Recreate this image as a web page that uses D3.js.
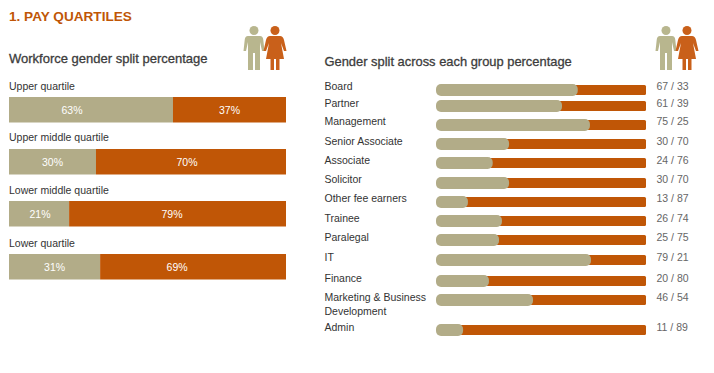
<!DOCTYPE html>
<html>
<head>
<meta charset="utf-8">
<script src="https://cdn.jsdelivr.net/npm/d3@7"></script>
<style>
	body { margin: 0; background: #fff; }
	svg { display: block; }
	text { font-family: "Liberation Sans", Arial, sans-serif; }
</style>
</head>
<body>
<svg id="chart" width="714" height="373"></svg>
<script>
const tan = "#b2ac88";
const rust = "#c05606";

// left panel
const quartiles = ["Upper quartile", "Upper middle quartile", "Lower middle quartile", "Lower quartile"];
const quartileMen = [63, 30, 21, 31];
const quartileWomen = [37, 70, 79, 69];
// where the split actually sits in the picture, it does not follow the printed numbers
const quartileDrawn = [59.2, 31.4, 21.7, 32.9];

// right panel
const groups = ["Board", "Partner", "Management", "Senior Associate", "Associate", "Solicitor", "Other fee earners",
	"Trainee", "Paralegal", "IT", "Finance", "Marketing & Business|Development", "Admin"];
const groupMen = [67, 61, 75, 30, 24, 30, 13, 26, 25, 79, 20, 46, 11];
const groupWomen = [33, 39, 25, 70, 76, 70, 87, 74, 75, 21, 80, 54, 89];
const groupDrawn = [67.5, 60, 73.3, 34.8, 27, 34.8, 15.2, 31.4, 30, 73.8, 25.2, 46.2, 12.9];

const svg = d3.select("#chart");

svg.append("text").attr("x", 9).attr("y", 20.5)
	.attr("font-size", 13.6).attr("font-weight", "bold").attr("fill", rust)
	.text("1. PAY QUARTILES");

svg.append("text").attr("x", 9).attr("y", 63)
	.attr("font-size", 13).attr("fill", "#3c3c3c").attr("stroke", "#3c3c3c").attr("stroke-width", 0.3)
	.text("Workforce gender split percentage");

svg.append("text").attr("x", 324.5).attr("y", 66)
	.attr("font-size", 12.9).attr("fill", "#3c3c3c").attr("stroke", "#3c3c3c").attr("stroke-width", 0.3)
	.text("Gender split across each group percentage");

// man and woman pictograms
function drawPeople(x, y) {
	const g = svg.append("g").attr("transform", "translate(" + x + "," + y + ")");
	g.append("circle").attr("cx", 10).attr("cy", 4.5).attr("r", 4.5).attr("fill", "#b8b68e");
	g.append("path").attr("fill", "#b8b68e")
		.attr("d", "M4,10 H16 Q19,10 19.3,14 L20.5,25 H18 L16,16 V44 H11 V27 H9 V44 H4 V16 L2,25 H-0.5 L0.7,14 Q1,10 4,10 Z");
	g.append("circle").attr("cx", 31).attr("cy", 4.5).attr("r", 4.5).attr("fill", "#c9601a");
	g.append("path").attr("fill", "#c9601a")
		.attr("d", "M26,10 H36 Q39,10 40,14 L42.5,25 H40 L37,17 L40,33 H35.5 V44 H32 V33 H30 V44 H26.500 V33 H22 L25,17 L22,25 H19.500 L22,14 Q23,10 26,10 Z");
}
drawPeople(244, 26);
drawPeople(656, 26);

// quartile bars
const xLeft = d3.scaleLinear().domain([0, 100]).range([9, 286]);
const yLeft = d3.scaleOrdinal().domain(quartiles).range([97, 149, 201, 254]);
const leftHeight = 25.5;
// the printed percentages are not centred in their segments in the original
const menLabelShift = [-19, 0, 1, 0];
const womenLabelShift = [0, -4, -5.5, -16];

quartiles.forEach((q, i) => {
	const y = yLeft(q);
	const split = xLeft(quartileDrawn[i]);
	svg.append("text").attr("x", 9).attr("y", y - 7 - (i == 1 ? 1 : 0))
		.attr("font-size", 10.5).attr("fill", "#333").text(q);
	svg.append("rect").attr("x", xLeft(0)).attr("y", y)
		.attr("width", split - xLeft(0)).attr("height", leftHeight).attr("fill", tan);
	svg.append("rect").attr("x", split).attr("y", y)
		.attr("width", xLeft(100) - split).attr("height", leftHeight).attr("fill", rust);
	svg.append("text").attr("x", (xLeft(0) + split) / 2 + menLabelShift[i]).attr("y", y + 16.5)
		.attr("text-anchor", "middle").attr("font-size", 10.5).attr("fill", "#fff").text(quartileMen[i] + "%");
	svg.append("text").attr("x", (split + xLeft(100)) / 2 + womenLabelShift[i]).attr("y", y + 16.5)
		.attr("text-anchor", "middle").attr("font-size", 10.5).attr("fill", "#fff").text(quartileWomen[i] + "%");
});

// group bars
const xRight = d3.scaleLinear().domain([0, 100]).range([436, 646]);
const yRight = d3.scaleOrdinal().domain(groups).range([84, 100, 119, 138, 157, 177, 196, 215, 234, 254, 275, 294, 324]);
const yLabel = d3.scaleOrdinal().domain(groups).range([90, 107, 125, 145, 164, 183, 202, 222, 241, 261, 282, 301, 331]);
const barHeight = 12;

groups.forEach((g, i) => {
	const y = yRight(g);
	svg.append("rect").attr("x", xRight(0) + 4).attr("y", y + 1)
		.attr("width", xRight(100) - xRight(0) - 4).attr("height", barHeight - 2)
		.attr("rx", 1.5).attr("fill", rust);
	svg.append("rect").attr("x", xRight(0)).attr("y", y)
		.attr("width", xRight(groupDrawn[i]) - xRight(0)).attr("height", barHeight)
		.attr("rx", 5).attr("fill", tan);

	const lines = g.split("|");
	lines.forEach((line, j) => {
		svg.append("text").attr("x", 324.5).attr("y", yLabel(g) + j * 13.5)
			.attr("font-size", 10.5).attr("fill", "#333").text(line);
	});
	svg.append("text").attr("x", 656.5).attr("y", yLabel(g))
		.attr("font-size", 10.5).attr("fill", "#666").text(groupMen[i] + " / " + groupWomen[i]);
});
</script>
</body>
</html>
